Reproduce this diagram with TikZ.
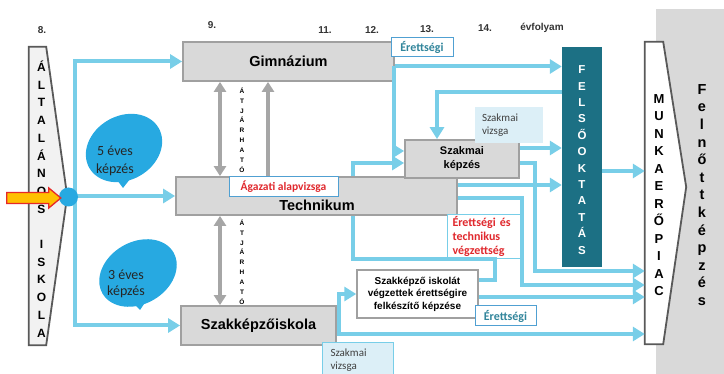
\documentclass[tikz,border=0pt]{standalone}
\usepackage{fontspec}
\setmainfont{Liberation Sans}
\newfontfamily\calibri{Carlito}
\usetikzlibrary{arrows.meta,calc}
\definecolor{lblue}{RGB}{120,206,232}
\definecolor{bblue}{RGB}{39,169,225}
\definecolor{fteal}{RGB}{28,112,132}
\definecolor{boxfill}{RGB}{217,217,217}
\definecolor{boxline}{RGB}{160,160,160}
\definecolor{darkline}{RGB}{89,89,89}
\definecolor{altfill}{RGB}{242,242,242}
\definecolor{gline}{RGB}{166,166,166}
\definecolor{lred}{RGB}{224,40,45}
\definecolor{etext}{RGB}{49,133,155}
\definecolor{tagline}{RGB}{80,160,210}
\definecolor{lbfill}{RGB}{220,239,247}
\definecolor{ayellow}{RGB}{255,192,0}
\definecolor{ared}{RGB}{230,40,40}
\begin{document}
\begin{tikzpicture}[x=1pt,y=-1pt,
  gbox/.style={draw=boxline,fill=boxfill,line width=1.8pt,inner sep=0pt},
  boxtext/.style={font=\bfseries\fontsize{14.5}{16}\selectfont},
  tag/.style={fill=white,draw=tagline,line width=1pt,inner sep=0pt,font=\calibri\bfseries\fontsize{12}{14}\selectfont},
  vizsga/.style={fill=lbfill,inner sep=0pt,minimum width=68pt,minimum height=36pt,text width=54pt,align=left,font=\calibri\fontsize{11}{13}\selectfont,text=black!75},
  conn/.style={draw=lblue,line width=4pt},
  arr/.style={conn,-{Triangle[length=12pt,width=14pt]}},
  pass/.style={draw=gline,line width=3.5pt,-{Triangle[length=10pt,width=12pt]}},
  dpass/.style={pass,{Triangle[length=10pt,width=12pt]}-{Triangle[length=10pt,width=12pt]}}]

\useasboundingbox (0,0) rectangle (724,374);

\node[fill=boxfill,minimum width=68pt,minimum height=365pt,inner sep=0pt] (felnott) at (690,191.5) {};
\node[align=center,font={\bfseries\fontsize{14.5}{17.6}\selectfont}] (felnotttxt) at (702,195) {F\\e\\l\\n\\ő\\t\\t\\k\\é\\p\\z\\é\\s};

\foreach \x/\y/\t [count=\i] in {42/30/8., 212/25/9., 325/30/11., 372/30/12., 427/29/13., 485/28/14., 542/28/évfolyam}
\node[font=\bfseries\fontsize{10}{12}\selectfont,text=black!80] (yr\i) at (\x,\y) {\t};

\node[gbox,minimum width=211pt,minimum height=39pt,boxtext] (gim) at (288.5,61.5) {Gimnázium};
\node[gbox,minimum width=281pt,minimum height=38pt] (tech) at (316.5,196) {};
\node[boxtext] (techtxt) at (317,205) {Technikum};
\node[gbox,minimum width=155pt,minimum height=39pt,boxtext] (szi) at (258.5,325.5) {Szakképzőiskola};
\node[gbox,minimum width=114pt,minimum height=38pt,align=center,font=\bfseries\fontsize{11}{14}\selectfont] (szk) at (462,159) {Szakmai\\képzés};
\node[draw=boxline,fill=white,line width=1.5pt,inner sep=0pt,minimum width=121pt,minimum height=48pt,align=center,font=\bfseries\fontsize{10}{12.5}\selectfont] (szie) at (417.5,294) {Szakképző iskolát\\végzettek érettségire\\felkészítő képzése};
\node[fill=fteal,minimum width=40pt,minimum height=220pt,inner sep=0pt] (felso) at (582,157) {};
\node[text=white,align=center,font={\bfseries\fontsize{11.5}{16.4}\selectfont}] (felsotxt) at (582,160) {F\\E\\L\\S\\Ő\\O\\K\\T\\A\\T\\Á\\S};

\node[minimum width=18pt,minimum height=302pt,inner sep=0pt] (munka) at (654,193) {};
\draw[darkline,line width=1.8pt,fill=white] (munka.north west) -- (munka.north east) -- ([xshift=23pt,yshift=6pt]munka.east) -- (munka.south east) -- (munka.south west) -- cycle;
\node[align=center,font={\bfseries\fontsize{13}{17.5}\selectfont}] (munkatxt) at (659,195) {M\\U\\N\\K\\A\\E\\R\\Ő\\P\\I\\A\\C};

\node[minimum width=17pt,minimum height=298pt,inner sep=0pt] (alt) at (37.5,196) {};
\draw[darkline,line width=1.8pt,fill=altfill] (alt.north west) -- (alt.north east) -- ([xshift=21pt]alt.east) -- (alt.south east) -- (alt.south west) -- cycle;
\node[align=center,font={\bfseries\fontsize{12}{17.7}\selectfont}] (alttxt) at (41.5,199) {Á\\L\\T\\A\\L\\Á\\N\\O\\S\\\mbox{}\\I\\S\\K\\O\\L\\A};

\fill[bblue,rotate around={30:(124,148)}] (124,148) ellipse [x radius=40,y radius=32];
\fill[bblue] (114,176) -- (123,188) -- (134,174) -- cycle;
\node[align=center,font=\calibri\fontsize{14}{18}\selectfont,text=black!85] (bub5) at (115,161) {5 éves\\képzés};
\fill[bblue,rotate around={30:(138,273)}] (138,273) ellipse [x radius=41,y radius=31];
\fill[bblue] (130,300) -- (140,310) -- (148,298) -- cycle;
\node[align=center,font=\calibri\fontsize{14}{16}\selectfont,text=black!85] (bub3) at (126,284) {3 éves\\képzés};

\node[fill=white,draw=lblue,line width=0.8pt,inner sep=0pt,minimum width=73pt,minimum height=44pt,text width=62pt,align=left,text=lred,font=\calibri\bfseries\fontsize{12}{14}\selectfont] (etv) at (483.5,236) {Érettségi és\\technikus\\végzettség};
\node[vizsga] (viz1) at (509,125) {Szakmai\\vizsga};
\node[vizsga,draw=lblue,line width=0.8pt,minimum width=71pt] (viz2) at (357.5,360) {Szakmai\\vizsga};

\coordinate (split) at (75,196);
\draw[arr] (split) |- (gim.west);
\draw[arr] (split) -- (tech.west);
\draw[arr] (split) |- (szi.west);
\node[circle,fill=bblue,minimum size=19pt,inner sep=0pt] (dot) at (68.5,197) {};
\draw[ared,line width=1.3pt,fill=ayellow] ([xshift=2pt,yshift=-1pt]dot.west) -- ++(-12,-10) -- ++(0,4.5) -- ++(-42,0) -- ++(0,11) -- ++(42,0) -- ++(0,4.5) -- cycle;

\coordinate (p1) at (220,0);
\coordinate (p2) at (268,0);
\draw[dpass] (p1 |- gim.south) -- (p1 |- tech.north);
\draw[pass] (p2 |- tech.north) -- (p2 |- gim.south);
\draw[dpass] (p1 |- tech.south) -- (p1 |- szi.north);
\foreach \y [count=\i] in {130,262}
\node[align=center,font={\bfseries\fontsize{6.5}{9.9}\selectfont}] (atj\i) at (242,\y) {Á\\T\\J\\Á\\R\\H\\A\\T\\Ó};

\draw[arr] ([yshift=-5pt]gim.east) -- ([yshift=-5pt]gim.east -| felso.west);
\draw[arr] ([xshift=-1pt,yshift=-5pt]gim.east) |- ([yshift=8pt]szk.west);
\draw[arr] ([yshift=65pt]felso.west) -| ([xshift=-25pt]szk.north);
\draw[arr] ([yshift=11pt]szk.east) -- ([yshift=11pt]szk.east -| felso.west);
\draw[arr] ([yshift=-4pt]szk.east) -- ++(15,0) |- ([yshift=-78pt]munka.west);
\draw[arr] ([yshift=11pt]tech.east) -- ([yshift=11pt]tech.east -| felso.west);
\draw[arr] ([yshift=-2pt]tech.east) -- ++(64,0) |- ([yshift=-92pt]munka.west);
\draw[arr] ([yshift=-14pt]felso.east) -- ([yshift=-14pt]felso.east -| munka.west);
\draw[arr] ([xshift=36pt]tech.north) |- ([yshift=-4pt]szk.west);
\draw[conn] ([xshift=36pt]tech.south) -- ++(0,43) -- ++(142,0) |- ([yshift=14pt]szie.east);
\draw[arr] ([yshift=-8.5pt]szi.east) -- ++(2,0) |- (szie.west);
\draw[arr] ([yshift=-8.5pt]szi.east) -- ([yshift=-8.5pt]szi.east -| munka.west);
\draw[arr] ([yshift=-3pt]szie.east) -- ([yshift=-3pt]szie.east -| munka.west);

\node[tag,text=lred,minimum width=109pt,minimum height=20pt,font=\calibri\bfseries\fontsize{11.5}{14}\selectfont] (agazati) at (283.5,187) {Ágazati alapvizsga};
\node[tag,text=etext,minimum width=62pt,minimum height=19pt] (eret1) at (422,47.5) {Érettségi};
\node[tag,text=etext,minimum width=61pt,minimum height=20pt] (eret2) at (505.5,316) {Érettségi};

\end{tikzpicture}
\end{document}
